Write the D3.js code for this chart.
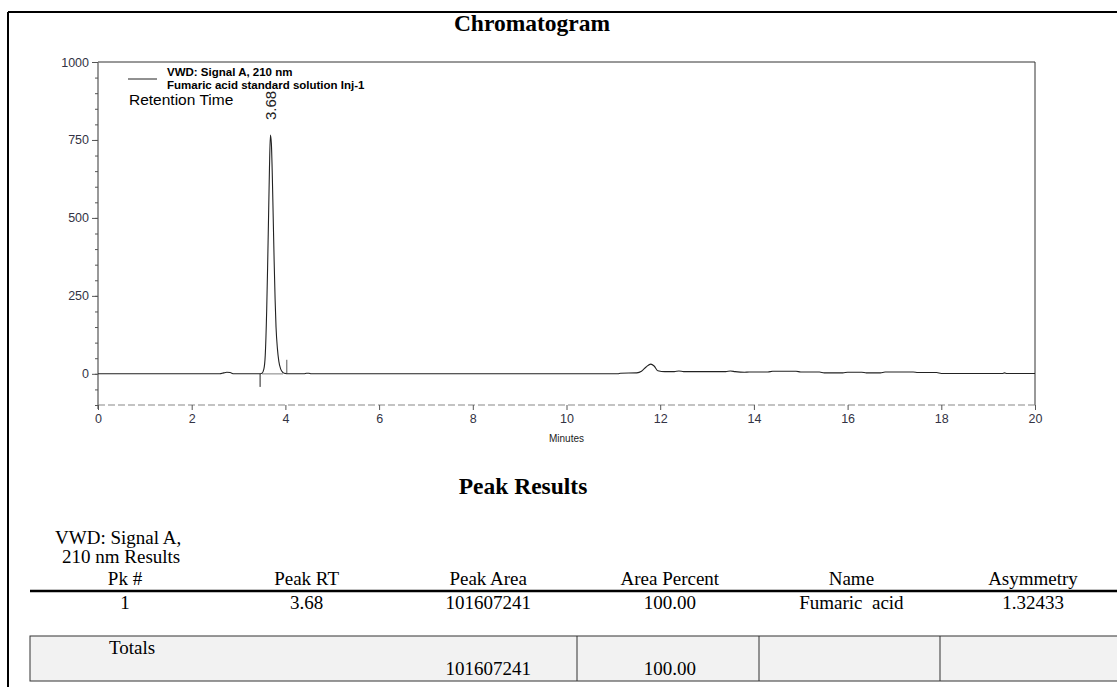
<!DOCTYPE html>
<html>
<head>
<meta charset="utf-8">
<script src="https://cdn.jsdelivr.net/npm/d3@7"></script>
<style>
  body { margin: 0; background: #fff; }
  svg { display: block; }
</style>
</head>
<body>
<svg id="page" width="1117" height="687"></svg>
<script>
  // chromatogram trace (minutes, mAU)
  var times = [
    0, 2.6, 2.68, 2.75, 2.82, 2.9, 3.44, 3.5, 3.54, 3.57, 3.6, 3.62, 3.64, 3.66, 3.68,
    3.7, 3.72, 3.74, 3.76, 3.78, 3.8, 3.83, 3.86, 3.9, 3.95, 4.0, 4.05, 4.4, 4.45, 4.5,
    4.55, 11.1, 11.15, 11.5, 11.6, 11.7, 11.8, 11.87, 11.95, 12.1, 12.3, 12.4, 12.5,
    13.4, 13.5, 13.6, 13.8, 13.9, 14.3, 14.4, 14.9, 15.0, 15.4, 15.5, 15.9, 16.0, 16.3,
    16.4, 16.7, 16.8, 17.4, 17.5, 17.9, 18.0, 19.3, 19.35, 19.4, 20
  ];
  var signal = [
    0, 0, 3, 5, 4, 0, 0, 2, 15, 60, 200, 340, 500, 660, 766,
    740, 640, 500, 360, 240, 150, 80, 40, 15, 4, 1, 0, 0, 2, 2,
    0, 0, 2, 3, 8, 22, 31, 25, 10, 7, 7, 9, 7,
    7, 9, 7, 5, 6, 6, 8, 8, 6, 6, 3, 3, 5, 5,
    3, 3, 6, 6, 4, 4, 1, 1, 3, 1, 1
  ];

  // peak integration marks
  var peakStart = 3.46, peakEnd = 4.03;
  var peakLabel = '3.68';

  // axes
  var xTicks = [0, 2, 4, 6, 8, 10, 12, 14, 16, 18, 20];
  var yTicks = [0, 250, 500, 750, 1000];
  var yMinor = d3.range(-100, 1001, 50);

  // peak results table
  var columns   = ['Pk #', 'Peak RT', 'Peak Area', 'Area Percent', 'Name', 'Asymmetry'];
  var peakRow   = ['1', '3.68', '101607241', '100.00', 'Fumaric  acid', '1.32433'];
  var totalsRow = ['', '', '101607241', '100.00', '', ''];

  var svg = d3.select('#page');
  var serif = '"Liberation Serif", "Times New Roman", serif',
      sans  = '"Liberation Sans", Arial, sans-serif';

  // page frame
  svg.append('line').attr('x1', 8).attr('y1', 12).attr('x2', 1117).attr('y2', 12)
    .attr('stroke', '#000').attr('stroke-width', 2);
  svg.append('line').attr('x1', 8).attr('y1', 12).attr('x2', 8).attr('y2', 687)
    .attr('stroke', '#000').attr('stroke-width', 2);

  svg.append('text').attr('x', 532).attr('y', 31).attr('text-anchor', 'middle')
    .style('font', 'bold 23.5px ' + serif).text('Chromatogram');

  // ** plot **
  var x = d3.scaleLinear().domain([0, 20]).range([98, 1035]);
  var y = d3.scaleLinear().domain([-100, 1000]).range([405, 62]);

  // frame top / right
  svg.append('path')
    .attr('d', 'M' + x(0) + ',' + y(1000) + 'H' + x(20) + 'V' + y(-100))
    .attr('fill', 'none').attr('stroke', '#333').attr('stroke-width', 1);

  // dashed bottom
  svg.append('line').attr('x1', x(0)).attr('x2', x(20)).attr('y1', y(-100)).attr('y2', y(-100))
    .attr('stroke', '#888').attr('stroke-width', 1.2).attr('stroke-dasharray', '7,3');

  var yAxis = svg.append('g').attr('transform', 'translate(' + x(0) + ',0)')
    .call(d3.axisLeft(y).tickValues(yTicks).tickSize(6).tickPadding(3).tickFormat(d3.format('d')));
  yAxis.select('.domain').remove();
  svg.append('line').attr('x1', x(0)).attr('x2', x(0)).attr('y1', y(1000)).attr('y2', y(-100) + 4)
    .attr('stroke', '#777').attr('stroke-width', 1.5);
  svg.append('g').attr('transform', 'translate(' + x(0) + ',0)')
    .call(d3.axisLeft(y).tickValues(yMinor).tickSize(3).tickFormat(''))
    .call(function(g){ g.select('.domain').remove() });

  var xAxis = svg.append('g').attr('transform', 'translate(0,' + y(-100) + ')')
    .call(d3.axisBottom(x).tickValues(xTicks).tickSize(5).tickPadding(4).tickSizeOuter(0));
  xAxis.select('.domain').remove();

  svg.selectAll('.tick text').style('font', '12.5px ' + sans).attr('fill', '#334');
  svg.selectAll('.tick line').attr('stroke', '#555');

  svg.append('text').attr('x', x(10)).attr('y', 442).attr('text-anchor', 'middle')
    .style('font', '10px ' + sans).attr('fill', '#222').text('Minutes');

  // integration baseline and markers
  svg.append('line').attr('x1', x(3.5)).attr('x2', x(3.95)).attr('y1', y(0)).attr('y2', y(0))
    .attr('stroke', '#aaa').attr('stroke-width', 1.5);
  svg.append('line').attr('x1', x(peakStart)).attr('x2', x(peakStart)).attr('y1', y(0)).attr('y2', y(-42))
    .attr('stroke', '#222');
  svg.append('line').attr('x1', x(peakEnd)).attr('x2', x(peakEnd)).attr('y1', y(0)).attr('y2', y(45))
    .attr('stroke', '#555');

  // trace
  var pts = times.map(function(t, i){ return [t, signal[i]] });
  var line = d3.line().x(function(d){ return x(d[0]) }).y(function(d){ return y(d[1]) })
    .curve(d3.curveMonotoneX);
  svg.append('path').datum(pts).attr('d', line)
    .attr('fill', 'none').attr('stroke', '#222').attr('stroke-width', 1.1);

  // peak label
  svg.append('text')
    .attr('transform', 'translate(' + (x(3.68) + 6) + ',' + 120 + ') rotate(-90)')
    .style('font', '15px ' + sans).attr('fill', '#222').text(peakLabel);

  // legend
  svg.append('line').attr('x1', 128).attr('x2', 157).attr('y1', 79).attr('y2', 79)
    .attr('stroke', '#222');
  svg.append('text').attr('x', 167).attr('y', 76).style('font', 'bold 11.5px ' + sans)
    .text('VWD: Signal A, 210 nm');
  svg.append('text').attr('x', 167).attr('y', 89).style('font', 'bold 11.5px ' + sans)
    .text('Fumaric acid standard solution Inj-1');
  svg.append('text').attr('x', 129).attr('y', 105).style('font', '15.5px ' + sans)
    .text('Retention Time');

  // ** Peak Results **
  svg.append('text').attr('x', 523).attr('y', 494).attr('text-anchor', 'middle')
    .style('font', 'bold 23.5px ' + serif).text('Peak Results');

  var tfont = '19px ' + serif;
  svg.append('text').attr('x', 55).attr('y', 544).style('font', tfont)
    .text('VWD: Signal A,');
  svg.append('text').attr('x', 62).attr('y', 563).style('font', tfont)
    .text('210 nm Results');

  var colX = d3.scalePoint().domain(columns).range([125, 1033]);

  svg.selectAll('.hdr').data(columns).enter().append('text')
    .attr('x', function(d){ return colX(d) }).attr('y', 585)
    .attr('text-anchor', 'middle').style('font', tfont).text(function(d){ return d });

  svg.append('line').attr('x1', 30).attr('x2', 1117).attr('y1', 591).attr('y2', 591)
    .attr('stroke', '#000').attr('stroke-width', 2.5);

  svg.selectAll('.row').data(peakRow).enter().append('text')
    .attr('x', function(d, i){ return colX(columns[i]) }).attr('y', 609)
    .attr('text-anchor', 'middle').style('font', tfont).style('white-space', 'pre')
    .text(function(d){ return d });

  // totals box
  svg.append('rect').attr('x', 30).attr('y', 636).attr('width', 1100).attr('height', 45)
    .attr('fill', '#f2f2f2').attr('stroke', '#333').attr('stroke-width', 1);
  [577, 759, 940].forEach(function(dx){
    svg.append('line').attr('x1', dx).attr('x2', dx).attr('y1', 636).attr('y2', 681)
      .attr('stroke', '#333');
  });
  svg.append('text').attr('x', 132).attr('y', 654).attr('text-anchor', 'middle')
    .style('font', tfont).text('Totals');
  svg.selectAll('.tot').data(totalsRow).enter().append('text')
    .attr('x', function(d, i){ return colX(columns[i]) }).attr('y', 675)
    .attr('text-anchor', 'middle').style('font', tfont)
    .text(function(d){ return d });
</script>
</body>
</html>
